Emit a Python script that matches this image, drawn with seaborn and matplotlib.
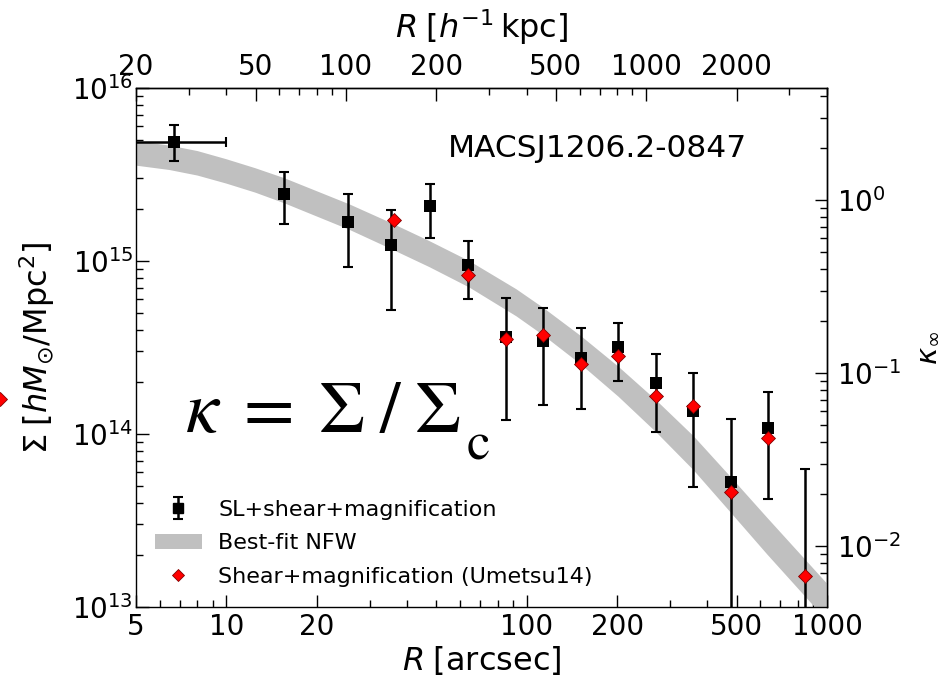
import numpy as np
import pandas as pd
import matplotlib
matplotlib.use("Agg")
import matplotlib.pyplot as plt
import seaborn as sns
from matplotlib.ticker import FixedLocator, LogLocator, FuncFormatter, NullFormatter
from matplotlib.lines import Line2D
from matplotlib.patches import Patch

# ---------------- data ----------------
# SL+shear+magnification (black squares), R in arcsec, Sigma in h M_sun / Mpc^2
R_sl = [6.71, 15.55, 25.5, 35.2, 47.6, 63.9, 85.1, 113.1, 151.3, 201.9, 269.5, 358.7, 477.9, 637.7, 847.0]
sig_sl = [4.89e15, 2.43e15, 1.69e15, 1.24e15, 2.08e15, 9.48e14, 3.62e14, 3.46e14, 2.74e14,
          3.20e14, 1.96e14, 1.36e14, 5.26e13, 1.08e14, 9.0e12]
sig_sl_hi = [6.11e15, 3.26e15, 2.43e15, 1.97e15, 2.78e15, 1.31e15, 6.09e14, 5.33e14, 4.10e14,
             4.40e14, 2.89e14, 2.26e14, 1.22e14, 1.74e14, 6.28e13]
sig_sl_lo = [3.80e15, 1.64e15, 9.2e14, 5.2e14, 1.35e15, 6.03e14, 1.20e14, 1.47e14, 1.39e14,
             2.03e14, 1.03e14, 4.92e13, 1.0e12, 4.19e13, 1.0e12]
# radial extent of the innermost bin
R_in_lo = 4.0
R_in_hi = 10.0

# Shear+magnification (Umetsu14), red diamonds
R_u14 = [36.1, 63.9, 85.1, 113.1, 151.3, 201.9, 269.5, 358.7, 477.9, 637.7, 847.0]
sig_u14 = [1.72e15, 8.3e14, 3.53e14, 3.72e14, 2.54e14, 2.81e14, 1.66e14, 1.46e14, 4.61e13, 9.44e13, 1.51e13]

# Best-fit NFW band (edges)
R_nfw = [5.00, 6.44, 7.98, 9.97, 12.45, 15.55, 25.60, 35.34, 47.28, 64.25, 92.11, 113.3, 151.6,
         201.4, 269.5, 357.9, 479.0, 631.2, 845.0, 1000.0]
nfw_hi = [4.96e15, 4.68e15, 4.35e15, 3.90e15, 3.46e15, 3.03e15, 2.14e15, 1.665e15, 1.312e15,
          1.005e15, 6.91e14, 5.39e14, 3.69e14, 2.466e14, 1.572e14, 9.80e13, 5.62e13, 3.29e13,
          1.884e13, 1.365e13]
nfw_lo = [3.58e15, 3.38e15, 3.14e15, 2.82e15, 2.50e15, 2.17e15, 1.525e15, 1.178e15, 9.28e14,
          7.07e14, 4.82e14, 3.74e14, 2.526e14, 1.654e14, 1.027e14, 6.23e13, 3.50e13, 2.02e13,
          1.152e13, 8.34e12]

x_major = [5, 10, 20, 100, 200, 500, 1000]
top_major = [20, 50, 100, 200, 500, 1000, 2000]
kpc_per_arcsec = 4.0
sigma_crit = 2.25e15

legend_labels = ["SL+shear+magnification", "Best-fit NFW", "Shear+magnification (Umetsu14)"]

# ---------------- style ----------------
sns.set_style("ticks")
plt.rcParams['font.family'] = ['DejaVu Sans']
plt.rcParams['mathtext.fontset'] = 'dejavusans'
plt.rcParams.update({'text.color': 'k', 'axes.labelcolor': 'k',
                     'xtick.color': 'k', 'ytick.color': 'k', 'axes.edgecolor': 'k'})

fig = plt.figure(figsize=(9.39, 6.88), dpi=100)
ax = fig.add_axes([136/939, 81/688, 691/939, 519/688])
ax.set_xscale('log')
ax.set_yscale('log')
ax.set_xlim(5, 1000)
ax.set_ylim(1e13, 1e16)

band_color = '#c0c0c0'
ax.fill_between(R_nfw, nfw_lo, nfw_hi, color=band_color, lw=0, zorder=1)

sig = np.array(sig_sl)
yerr = np.vstack([sig - np.array(sig_sl_lo), np.array(sig_sl_hi) - sig])
eb_kw = dict(fmt='none', ecolor='k', elinewidth=1.8, capsize=3.8, capthick=1.5, zorder=3)
ax.errorbar(R_sl, sig, yerr=yerr, **eb_kw)
ax.errorbar([R_sl[0]], [sig[0]], xerr=[[R_sl[0] - R_in_lo], [R_in_hi - R_sl[0]]], **eb_kw)

df_sl = pd.DataFrame({'R': R_sl, 'Sigma': sig_sl})
sns.scatterplot(data=df_sl, x='R', y='Sigma', marker='s', s=85, color='k', edgecolor='k',
                linewidth=0, ax=ax, zorder=4, legend=False)
df_u = pd.DataFrame({'R': R_u14, 'Sigma': sig_u14})
sns.scatterplot(data=df_u, x='R', y='Sigma', marker='D', s=50, color='red', edgecolor='#800000',
                linewidth=0.6, ax=ax, zorder=5, legend=False)

# ---------------- ticks ----------------
for sp in ax.spines.values():
    sp.set_linewidth(1.0)
    sp.set_color('k')

ax.xaxis.set_major_locator(FixedLocator(x_major))
ax.xaxis.set_minor_locator(LogLocator(base=10, subs=np.arange(2, 10), numticks=30))
ax.xaxis.set_major_formatter(FuncFormatter(lambda v, p: f'{v:g}'))
ax.xaxis.set_minor_formatter(NullFormatter())
ax.yaxis.set_major_locator(LogLocator(base=10, numticks=10))
ax.yaxis.set_minor_locator(LogLocator(base=10, subs=np.arange(2, 10), numticks=30))
ax.yaxis.set_minor_formatter(NullFormatter())
ax.tick_params(which='both', direction='in', top=False, right=False, color='k')
ax.tick_params(which='major', length=9, width=1.0, labelsize=20, labelcolor='k')
ax.tick_params(which='minor', length=5, width=1.0)
ax.tick_params(axis='x', which='major', pad=4)
ax.tick_params(axis='y', which='major', pad=2)

ax.set_xlabel(r'$R\;[\mathrm{arcsec}]$', fontsize=23, color='k')
ax.xaxis.set_label_coords(0.5, -0.071)
ax.set_ylabel(r'$\Sigma\;[hM_{\odot}/\mathrm{Mpc}^2]$', fontsize=23, color='k')
ax.yaxis.set_label_coords(-0.114, 0.5)

secx = ax.secondary_xaxis('top', functions=(lambda x: x * kpc_per_arcsec, lambda x: x / kpc_per_arcsec))
secx.xaxis.set_major_locator(FixedLocator(top_major))
secx.xaxis.set_minor_locator(LogLocator(base=10, subs=np.arange(2, 10), numticks=30))
secx.xaxis.set_major_formatter(FuncFormatter(lambda v, p: f'{v:g}'))
secx.xaxis.set_minor_formatter(NullFormatter())
secx.tick_params(which='both', direction='in', color='k')
secx.tick_params(which='major', length=9, width=1.0, labelsize=20, pad=5, labelcolor='k')
secx.tick_params(which='minor', length=5, width=1.0)
secx.spines['top'].set_linewidth(1.0)
ax.text(0.5, 1.079, r'$R\;[h^{-1}\,\mathrm{kpc}]$', transform=ax.transAxes, ha='center',
        va='bottom', fontsize=23, color='k')

secy = ax.secondary_yaxis('right', functions=(lambda y: y / sigma_crit, lambda k: k * sigma_crit))
secy.yaxis.set_major_locator(LogLocator(base=10, numticks=10))
secy.yaxis.set_minor_locator(LogLocator(base=10, subs=np.arange(2, 10), numticks=30))
secy.yaxis.set_minor_formatter(NullFormatter())
secy.tick_params(which='both', direction='in', color='k')
secy.tick_params(which='major', length=9, width=1.0, labelsize=20, pad=7, labelcolor='k')
secy.tick_params(which='minor', length=5, width=1.0)
secy.spines['right'].set_linewidth(1.0)
ax.text(1.1447, 0.5, r'$\kappa_{\infty}$', transform=ax.transAxes, ha='center', va='center',
        rotation=90, fontsize=21, color='k')

# ---------------- annotations ----------------
ax.text(0.452, 0.8676, 'MACSJ1206.2-0847', transform=ax.transAxes, ha='left', va='baseline',
        fontsize=22.5, color='k')
ax.text(0.0709, 0.338, r'$\kappa\;=\;\Sigma\;/\;\Sigma$', transform=ax.transAxes,
        ha='left', va='baseline', fontsize=53, color='k', math_fontfamily='stix')
ax.text((467 - 136) / 691, (607 - 459) / 519, 'c', transform=ax.transAxes, ha='left',
        va='baseline', fontsize=38, color='k', family='STIXGeneral')

# ---------------- legend ----------------
h_eb = ax.errorbar([np.nan], [np.nan], yerr=[[np.nan], [np.nan]], fmt='s', color='k', ms=7,
                   elinewidth=1.8, capsize=3.5, capthick=1.5)
h_band = Patch(facecolor=band_color, edgecolor='none')
h_red = Line2D([], [], ls='none', marker='D', ms=6.5, markerfacecolor='red',
               markeredgecolor='#800000', markeredgewidth=0.6)
ax.legend([h_eb, h_band, h_red], legend_labels, loc='lower left',
          bbox_to_anchor=((155 - 136) / 691, 0.039), borderpad=0, borderaxespad=0,
          frameon=False, fontsize=16, handlelength=2.1, handletextpad=0.75, labelspacing=0.6)

# stray marker at the left border of the reference image
fig.add_artist(Line2D([0.0], [(688 - 399) / 688], transform=fig.transFigure, marker='D', ms=7,
                      markerfacecolor='red', markeredgecolor='#800000', markeredgewidth=0.6,
                      ls='none', clip_on=False))

fig.savefig('out.png', dpi=100)
